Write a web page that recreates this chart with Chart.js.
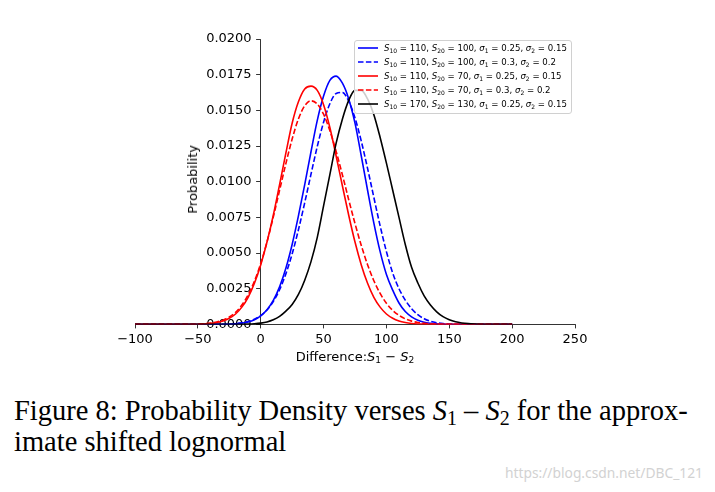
<!DOCTYPE html>
<html>
<head>
<meta charset="utf-8">
<script src="https://cdn.jsdelivr.net/npm/chart.js@4.4.1/dist/chart.umd.min.js"></script>
<style>
  body { margin: 0; background: #fff; width: 715px; height: 492px; position: relative; overflow: hidden; font-family: "DejaVu Sans", sans-serif; color: #000; }
  #chart { position: absolute; left: 0; top: 0; }
  sub { font-size: 70%; vertical-align: -0.25em; line-height: 0; }
  #ytitle { position: absolute; left: 186px; top: 145px; font-size: 13px; line-height: 14px; writing-mode: vertical-rl; transform: rotate(180deg); white-space: nowrap; }
  #xtitle { position: absolute; left: 355px; top: 356px; font-size: 13px; transform: translate(-50%, -50%); white-space: nowrap; }
  #legend { position: absolute; left: 354px; top: 40px; width: 216px; height: 72px; border: 1px solid #d0d0d0; border-radius: 3px; background: rgba(255,255,255,0.8); font-size: 8.6px; }
  .row { height: 14px; display: flex; align-items: center; white-space: nowrap; }
  .row svg { margin-left: 3px; margin-right: 6px; flex: none; }
  #caption { position: absolute; left: 14px; top: 395px; font-family: "Liberation Serif", serif; font-size: 28.5px; line-height: 31px; white-space: nowrap; }
  #mark { position: absolute; right: 12px; top: 463px; font-family: "Noto Sans", sans-serif; font-size: 13.8px; color: #d2d2d2; white-space: nowrap; }
</style>
</head>
<body>
<canvas id="chart" width="715" height="350"></canvas>
<div id="ytitle">Probability</div>
<div id="xtitle">Difference:<i>S</i><sub>1</sub> − <i>S</i><sub>2</sub></div>
<div id="legend"></div>
<div id="caption">Figure 8: Probability Density verses <i>S</i><sub>1</sub> – <i>S</i><sub>2</sub> for the approx-<br>imate shifted lognormal</div>
<div id="mark">https://blog.csdn.net/DBC_121</div>
<script>
// x grid of the curves
const xValues = [-100,-95,-90,-85,-80,-75,-70,-65,-60,-55,-50,-45,-40,-35,-30,-25,-20,-15,-10,-5,
  0,5,10,15,20,25,30,35,40,45,50,55,60,65,70,75,80,85,90,95,100,105,110,115,120,125,130,135,140,145,
  150,155,160,165,170,175,180,185,190,195,200];

// S10=110, S20=100, s1=0.25, s2=0.15
const blueSolid = [0,0,0,0,0,0,0,0,0,0,0,0,0,0,0,0.00002,0.00004,0.00009,0.00017,0.00033,
  0.0006,0.00103,0.00168,0.00263,0.00393,0.0056,0.0076,0.0098,0.0121,0.0143,0.0160,0.0171,0.0174,0.0169,0.0158,
  0.0141,0.0118,0.0094,0.0071,0.0051,0.0035,0.0024,0.0015,0.0009,0.00053,0.00029,0.00015,0.00008,0.00004,0.00002,
  0.00001,0,0,0,0,0,0,0,0,0,0];
// S10=110, S20=100, s1=0.3, s2=0.2
const blueDashed = [0,0,0,0,0,0,0,0,0,0,0,0,0,0,0,0,0.000055,0.00011,0.0002,0.00036,
  0.00061,0.00101,0.0016,0.00243,0.00354,0.00494,0.00663,0.00853,0.01053,0.01247,0.01417,0.01546,0.01618,0.01625,0.01565,
  0.01447,0.01284,0.01093,0.0089,0.0069,0.0051,0.0036,0.0025,0.0017,0.0011,0.00068,0.0004,0.00022,0.00012,0.00006,
  0.00003,0.000015,0.000007,0,0,0,0,0,0,0,0];
// S10=110, S20=70, s1=0.25, s2=0.15
const redSolid = [0,0,0,0,0,0,0,0,0,0,0,0.00003,0.000064,0.00013,0.00024,0.00043,0.00073,0.00121,0.0019,0.00288,
  0.00417,0.00577,0.00765,0.0098,0.0120,0.0141,0.0156,0.0165,0.0167,0.0164,0.0154,0.0138,0.0118,0.0097,0.00765,
  0.00577,0.00417,0.00288,0.0019,0.00121,0.00073,0.00043,0.00024,0.00013,0.000064,0.00003,0.000013,0,0,0,
  0,0,0,0,0,0,0,0,0,0,0];
// S10=110, S20=70, s1=0.3, s2=0.2
const redDashed = [0,0,0,0,0,0,0,0,0,0,0.000023,0.000047,0.00009,0.00017,0.0003,0.00052,0.00085,0.00136,0.00207,0.00303,
  0.00427,0.00578,0.00752,0.00939,0.01127,0.01299,0.0144,0.01532,0.01567,0.01544,0.01473,0.01358,0.01212,0.01047,0.00874,
  0.00707,0.00553,0.00418,0.00306,0.00217,0.00148,0.00098,0.00063,0.00039,0.00023,0.000136,0.000077,0.00004,0.00002,0.00001,
  0,0,0,0,0,0,0,0,0,0,0];
// S10=170, S20=130, s1=0.25, s2=0.15
const blackSolid = [0,0,0,0,0,0,0,0,0,0,0,0,0,0,0,0,0.000004,0.00001,0.000021,0.000045,
  0.00009,0.00017,0.00032,0.00056,0.00093,0.0014,0.0021,0.0031,0.0044,0.0061,0.0083,0.0105,0.0127,0.0144,0.0157,
  0.0164,0.0164,0.0158,0.0147,0.0131,0.0113,0.0094,0.0075,0.0056,0.0040,0.0029,0.0020,0.00136,0.00088,0.00054,
  0.00032,0.00018,0.0001,0.000052,0.000026,0.000012,0.000005,0,0,0,0];

const s10 = ['110', '110', '110', '110', '170'];
const s20 = ['100', '100', '70', '70', '130'];
const sigma1 = ['0.25', '0.3', '0.25', '0.3', '0.25'];
const sigma2 = ['0.15', '0.2', '0.15', '0.2', '0.15'];
const seriesColors = ['#0000ff', '#0000ff', '#ff0000', '#ff0000', '#000000'];
const seriesDashed = [false, true, false, true, false];
const seriesValues = [blueSolid, blueDashed, redSolid, redDashed, blackSolid];

const xTicks = [-100, -50, 0, 50, 100, 150, 200, 250];
const yTicks = [0, 0.0025, 0.005, 0.0075, 0.01, 0.0125, 0.015, 0.0175, 0.02];

Chart.defaults.font.family = '"DejaVu Sans", sans-serif';
Chart.defaults.font.size = 13;
Chart.defaults.color = '#000';

const datasets = seriesValues.map((vals, i) => ({
  label: 'S10=' + s10[i] + ', S20=' + s20[i],
  data: xValues.map((x, j) => ({ x: x, y: vals[j] })),
  borderColor: seriesColors[i],
  borderWidth: 1.6,
  borderDash: seriesDashed[i] ? [5.5, 2.4] : [],
  pointRadius: 0,
  fill: false,
  cubicInterpolationMode: 'monotone',
  order: seriesValues.length - i   // black drawn last, on top
}));

new Chart(document.getElementById('chart'), {
  type: 'line',
  data: { datasets },
  options: {
    responsive: false,
    animation: false,
    layout: { padding: { left: 135, right: 140, top: 39, bottom: 0 } },
    plugins: { legend: { display: false }, tooltip: { enabled: false } },
    scales: {
      x: {
        type: 'linear',
        position: 'bottom',
        min: -100,
        max: 250,
        afterBuildTicks: (axis) => { axis.ticks = xTicks.map(v => ({ value: v })); },
        ticks: { callback: (v) => String(v).replace('-', '\u2212'), padding: 3, maxRotation: 0 },
        grid: { drawOnChartArea: false, drawTicks: true, tickLength: 4, color: '#000', lineWidth: 0.8 },
        border: { display: true, color: '#000', width: 0.8 }
      },
      y: {
        type: 'linear',
        position: { x: 0 },
        min: 0,
        max: 0.02,
        afterBuildTicks: (axis) => { axis.ticks = yTicks.map(v => ({ value: v })); },
        // centred axis ignores ticks.padding, so pad the label text itself
        ticks: { callback: (v) => Number(v).toFixed(4) + '\u2002\u2009' },
        grid: { drawOnChartArea: false, drawTicks: true, tickLength: 4, color: '#000', lineWidth: 0.8 },
        border: { display: true, color: '#000', width: 0.8 }
      }
    }
  }
});

// legend box
const legend = document.getElementById('legend');
seriesValues.forEach((_, i) => {
  const row = document.createElement('div');
  row.className = 'row';
  const dash = seriesDashed[i] ? ' stroke-dasharray="5.5 2.4"' : '';
  row.innerHTML = `<svg width="20" height="6"><line x1="0" y1="3" x2="20" y2="3" stroke="${seriesColors[i]}" stroke-width="1.6"${dash}/></svg>` +
    `<span><i>S</i><sub>10</sub> = ${s10[i]}, <i>S</i><sub>20</sub> = ${s20[i]}, <i>σ</i><sub>1</sub> = ${sigma1[i]}, <i>σ</i><sub>2</sub> = ${sigma2[i]}</span>`;
  legend.appendChild(row);
});
</script>
</body>
</html>
